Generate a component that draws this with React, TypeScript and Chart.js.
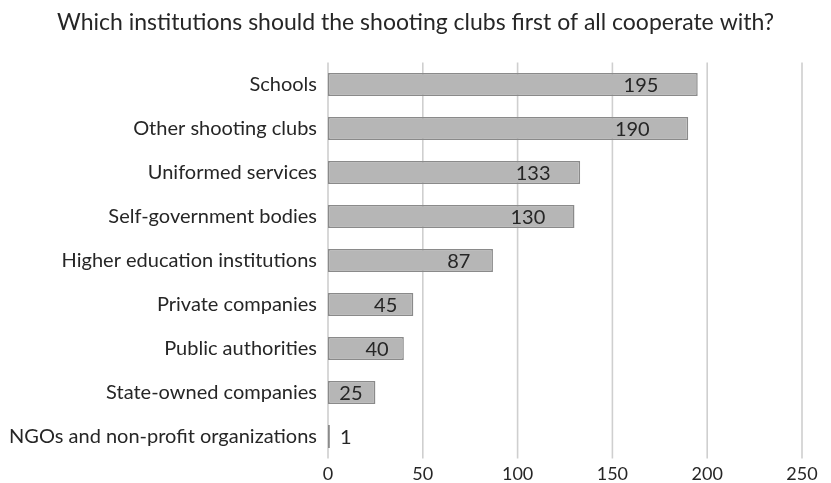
import React, { useEffect, useRef } from "react";
import { Chart, registerables } from "chart.js";

Chart.register(...registerables);

const titleText = "Which institutions should the shooting clubs first of all cooperate with?";
const categories = [
  "Schools",
  "Other shooting clubs",
  "Uniformed services",
  "Self-government bodies",
  "Higher education institutions",
  "Private companies",
  "Public authorities",
  "State-owned companies",
  "NGOs and non-profit organizations",
];
const values = [195, 190, 133, 130, 87, 45, 40, 25, 1];
const xMin = 0;
const xMax = 250;
const xStep = 50;

const FONT = "Lato, 'Open Sans', sans-serif";
const TEXT = "#262626";
const GRID = "#cfcfcf";

const gridPlugin = {
  id: "xGrid",
  beforeDatasetsDraw(chart: any) {
    const ctx = chart.ctx;
    const sx = chart.scales.x;
    const area = chart.chartArea;
    ctx.save();
    ctx.strokeStyle = GRID;
    ctx.lineWidth = 1.6;
    sx.ticks.forEach((t: any) => {
      const x = sx.getPixelForValue(t.value);
      ctx.beginPath();
      ctx.moveTo(x, area.top);
      ctx.lineTo(x, area.bottom);
      ctx.stroke();
    });
    ctx.restore();
  },
};

const labelPlugin = {
  id: "barLabels",
  afterDatasetsDraw(chart: any) {
    const ctx = chart.ctx;
    const meta = chart.getDatasetMeta(0);
    ctx.save();
    ctx.font = `20px ${FONT}`;
    ctx.fillStyle = TEXT;
    ctx.textBaseline = "middle";
    meta.data.forEach((el: any, i: number) => {
      const len = el.x - el.base;
      const txt = String(values[i]);
      if (len > 20) {
        ctx.textAlign = "right";
        ctx.fillText(txt, el.x - (9 + 0.082 * len), el.y + 1);
      } else {
        ctx.textAlign = "left";
        ctx.fillText(txt, el.x + 10, el.y + 1);
      }
    });
    ctx.restore();
  },
};

const titlePlugin = {
  id: "centeredTitle",
  afterDraw(chart: any) {
    const ctx = chart.ctx;
    ctx.save();
    ctx.font = `23px ${FONT}`;
    ctx.fillStyle = TEXT;
    ctx.textAlign = "center";
    ctx.textBaseline = "middle";
    ctx.fillText(titleText, chart.width / 2, 23);
    ctx.restore();
  },
};

export default function App() {
  const ref = useRef<HTMLCanvasElement | null>(null);
  useEffect(() => {
    document.documentElement.style.overflow = "hidden";
    document.body.style.margin = "0";
    document.body.style.overflow = "hidden";
    if (!ref.current) return;
    const ctx = ref.current.getContext("2d")!;
    const chart = new Chart(ctx, {
      type: "bar",
      data: {
        labels: categories,
        datasets: [
          {
            data: values,
            backgroundColor: "#b6b6b6",
            borderColor: "#8a8a8a",
            borderWidth: 1.5,
            borderSkipped: false,
            barPercentage: 0.52,
            categoryPercentage: 1,
          },
        ],
      },
      options: {
        indexAxis: "y",
        animation: false,
        responsive: false,
        maintainAspectRatio: false,
        layout: { padding: { left: 0, right: 29, top: 62.5, bottom: 0 } },
        plugins: {
          legend: { display: false },
          tooltip: { enabled: false },
          title: { display: false },
        },
        scales: {
          x: {
            min: xMin,
            max: xMax,
            ticks: {
              stepSize: xStep,
              color: TEXT,
              font: { family: FONT, size: 18 },
              padding: 5,
            },
            grid: { display: false, drawTicks: false },
            border: { display: false },
            afterFit: (s: any) => {
              s.height = 24.5;
              s.paddingRight = 0;
              s.paddingLeft = 0;
            },
          },
          y: {
            ticks: {
              color: TEXT,
              font: { family: FONT, size: 20 },
              padding: 11,
            },
            grid: { display: false, drawTicks: false },
            border: { display: false },
            afterFit: (s: any) => {
              s.width = 328;
            },
          },
        },
      },
      plugins: [gridPlugin, labelPlugin, titlePlugin],
    });
    return () => chart.destroy();
  }, []);
  return (
    <div style={{ position: "absolute", left: 0, top: 0, width: 831, height: 483, background: "#fff", overflow: "hidden" }}>
      <canvas ref={ref} width={831} height={483} style={{ display: "block" }} />
    </div>
  );
}
